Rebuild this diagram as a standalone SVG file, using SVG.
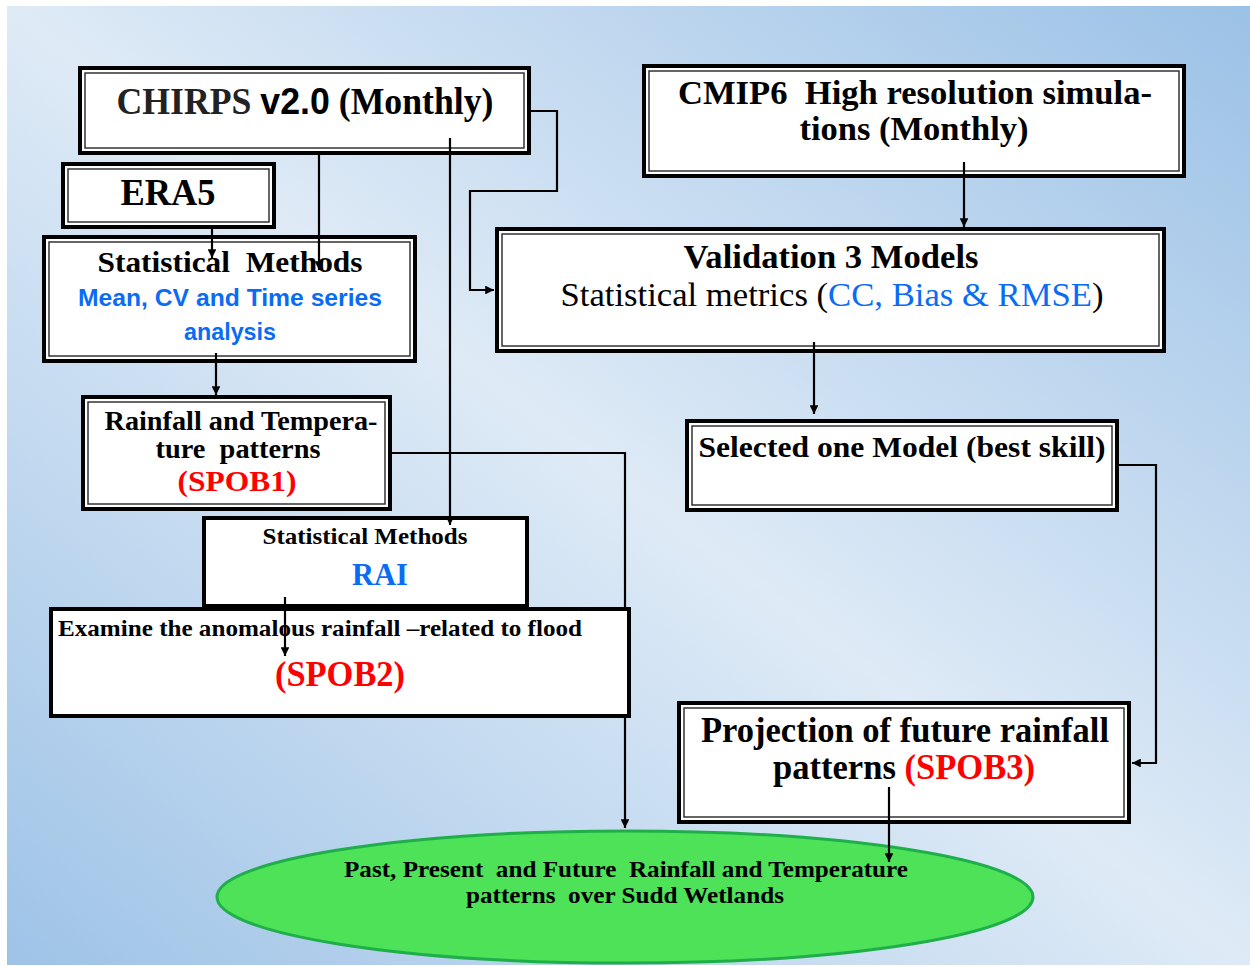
<svg xmlns="http://www.w3.org/2000/svg" width="1250" height="966" viewBox="0 0 1250 966">
<defs>
<linearGradient id="bg" x1="0" y1="1" x2="1" y2="0">
<stop offset="0" stop-color="#9ec3e7"/>
<stop offset="0.5" stop-color="#deeaf6"/>
<stop offset="1" stop-color="#9bc1e6"/>
</linearGradient>
<marker id="ah" viewBox="0 0 10 10" refX="10" refY="5" markerWidth="4" markerHeight="4" orient="auto" markerUnits="strokeWidth">
<path d="M0 0 L10 5 L0 10 Z" fill="#000"/>
</marker>
</defs>
<style>
.outer{fill:#fff;stroke:#000;stroke-width:4}
.inner{fill:none;stroke:#333;stroke-width:1.5}
.t{font-family:"Liberation Serif","Times New Roman",serif;font-weight:bold;fill:#000;text-anchor:middle;white-space:pre}
.n{font-weight:normal}
.red{fill:#ff0000}
.blue{fill:#0a6cf5}
.sans{font-family:"Liberation Sans",Arial,sans-serif}
.c{fill:none;stroke:#000;stroke-width:2.2}
.ca{fill:none;stroke:#000;stroke-width:2.2;marker-end:url(#ah)}
</style>
<rect x="7" y="6" width="1243" height="959" fill="url(#bg)"/>

<g id="chirps">
<rect class="outer" x="80" y="68" width="449" height="85"/>
<rect class="inner" x="85" y="73" width="439" height="75"/>
<text class="t" x="305" y="114" font-size="37" textLength="377" lengthAdjust="spacingAndGlyphs"><tspan fill="#222">CHIRPS </tspan><tspan class="sans">v2.0</tspan> (Monthly)</text>
</g>

<g id="era5">
<rect class="outer" x="63" y="164" width="211" height="63"/>
<rect class="inner" x="68" y="169" width="201" height="53"/>
<text class="t" x="168" y="205" font-size="37" textLength="95" lengthAdjust="spacingAndGlyphs">ERA5</text>
</g>

<g id="statmethods">
<rect class="outer" x="44" y="237" width="371" height="124"/>
<rect class="inner" x="49" y="242" width="361" height="114"/>
<text class="t" x="230" y="272" font-size="30" textLength="265" lengthAdjust="spacingAndGlyphs">Statistical  Methods</text>
<text class="t sans blue" x="230" y="306" font-size="24" textLength="304" lengthAdjust="spacingAndGlyphs">Mean, CV and Time series</text>
<text class="t sans blue" x="230" y="340" font-size="24" textLength="92" lengthAdjust="spacingAndGlyphs">analysis</text>
</g>

<g id="rainfall">
<rect class="outer" x="83" y="397" width="307" height="112"/>
<rect class="inner" x="88" y="402" width="297" height="102"/>
<text class="t" x="241" y="430" font-size="28" textLength="273" lengthAdjust="spacingAndGlyphs">Rainfall and Tempera-</text>
<text class="t" x="238" y="458" font-size="27" textLength="165" lengthAdjust="spacingAndGlyphs">ture  patterns</text>
<text class="t red" x="237" y="491" font-size="29" textLength="119" lengthAdjust="spacingAndGlyphs">(SPOB1)</text>
</g>

<g id="rai">
<rect class="outer" x="204" y="518" width="323" height="88"/>
<text class="t" x="365" y="544" font-size="24" textLength="205" lengthAdjust="spacingAndGlyphs">Statistical Methods</text>
<text class="t blue" x="380" y="585" font-size="32" textLength="56" lengthAdjust="spacingAndGlyphs">RAI</text>
</g>

<g id="examine">
<rect class="outer" x="51" y="609" width="578" height="107"/>
<text class="t" x="58" y="636" font-size="24" style="text-anchor:start" textLength="524" lengthAdjust="spacingAndGlyphs">Examine the anomalous rainfall –related to flood</text>
<text class="t red" x="340" y="686" font-size="35" textLength="130" lengthAdjust="spacingAndGlyphs">(SPOB2)</text>
</g>

<g id="cmip6">
<rect class="outer" x="644" y="66" width="540" height="110"/>
<rect class="inner" x="649" y="71" width="530" height="100"/>
<text class="t" x="915" y="104" font-size="34" textLength="474" lengthAdjust="spacingAndGlyphs">CMIP6  High resolution simula-</text>
<text class="t" x="914" y="140" font-size="34" textLength="229" lengthAdjust="spacingAndGlyphs">tions (Monthly)</text>
</g>

<g id="validation">
<rect class="outer" x="497" y="229" width="667" height="122"/>
<rect class="inner" x="502" y="234" width="657" height="112"/>
<text class="t" x="831" y="268" font-size="33" textLength="295" lengthAdjust="spacingAndGlyphs">Validation 3 Models</text>
<text class="t n" x="832" y="306" font-size="33" textLength="543" lengthAdjust="spacingAndGlyphs">Statistical metrics (<tspan class="blue">CC, Bias &amp; RMSE</tspan>)</text>
</g>

<g id="selected">
<rect class="outer" x="687" y="421" width="430" height="89"/>
<rect class="inner" x="692" y="426" width="420" height="79"/>
<text class="t" x="902" y="457" font-size="30" textLength="407" lengthAdjust="spacingAndGlyphs">Selected one Model (best skill)</text>
</g>

<g id="projection">
<rect class="outer" x="679" y="703" width="450" height="119"/>
<rect class="inner" x="684" y="708" width="440" height="109"/>
<text class="t" x="905" y="742" font-size="35" textLength="408" lengthAdjust="spacingAndGlyphs">Projection of future rainfall</text>
<text class="t" x="904" y="779" font-size="35" textLength="262" lengthAdjust="spacingAndGlyphs">patterns <tspan class="red">(SPOB3)</tspan></text>
</g>

<g id="outcome">
<ellipse cx="625" cy="897" rx="408" ry="66" fill="#4de257" stroke="#1fae4a" stroke-width="3"/>
<text class="t" x="626" y="877" font-size="24" fill="#0a1a0a" textLength="564" lengthAdjust="spacingAndGlyphs">Past, Present  and Future  Rainfall and Temperature</text>
<text class="t" x="625" y="903" font-size="24" fill="#0a1a0a" textLength="318" lengthAdjust="spacingAndGlyphs">patterns  over Sudd Wetlands</text>
</g>

<g id="connectors">
<path class="ca" d="M531 111 H557 V191 H470 V290 H494"/>
<path class="ca" d="M319 153 V270"/>
<path class="ca" d="M212 229 V258"/>
<path class="ca" d="M216 353 V395"/>
<path class="ca" d="M450 138 V525"/>
<path class="c" d="M392 453 H625 V607"/>
<path class="ca" d="M625 718 V828"/>
<path class="ca" d="M285 597 V656"/>
<path class="ca" d="M964 162 V227"/>
<path class="ca" d="M814 342 V414"/>
<path class="ca" d="M1119 465 H1156 V763 H1132"/>
<path class="ca" d="M889 787 V862"/>
</g>
</svg>
